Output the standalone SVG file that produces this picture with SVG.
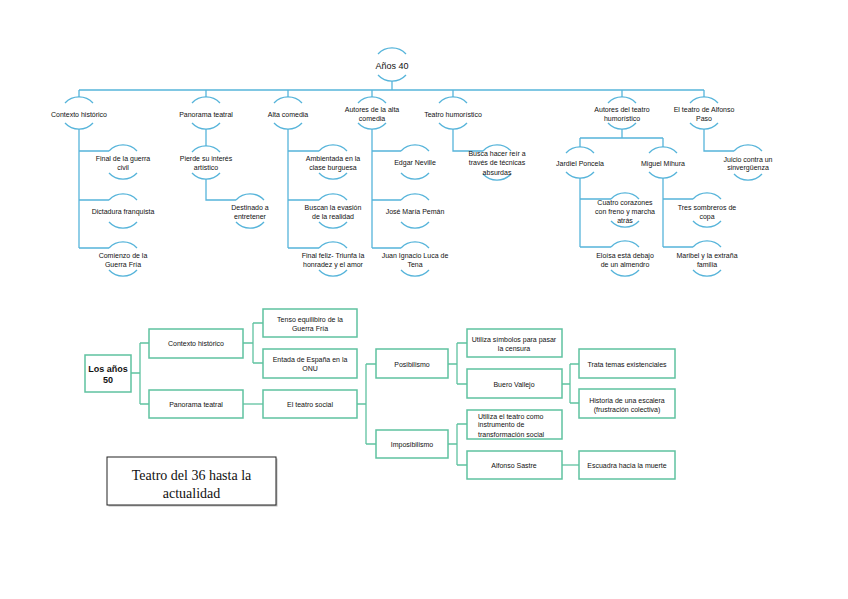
<svg xmlns="http://www.w3.org/2000/svg" width="848" height="599" viewBox="0 0 848 599">
<style>
  .bg{fill:#ffffff}
  .arc{fill:none;stroke:#56b4da;stroke-width:1.3}
  .con path{fill:none;stroke:#56b4da;stroke-width:1.3}
  .gcon path{fill:none;stroke:#5fc2a0;stroke-width:1.3}
  .t{font-family:"Liberation Sans","Noto Sans",sans-serif;font-size:7px;fill:#111111;text-anchor:middle}
  .box{fill:#ffffff;stroke:#5fc2a0;stroke-width:1.5}
  .tb{font-family:"Liberation Sans","Noto Sans",sans-serif;font-size:9px;font-weight:bold;fill:#111111;text-anchor:middle}
  .ts{font-family:"Liberation Serif","DejaVu Serif",serif;font-size:14px;fill:#111111;text-anchor:middle}
</style>
<rect class="bg" x="0" y="0" width="848" height="599"/>

<!-- connectors top -->
<g id="connectors-top" class="con">
  <path d="M392,81 V90"/>
  <path d="M79,90 H704"/>
  <path d="M79,90 V97 M206,90 V97 M288,90 V97 M372,90 V97 M453,90 V97 M622,90 V97 M704,90 V97"/>
  <path d="M79,129 V248 M79,151 H109 M79,200 H109 M79,248 H109"/>
  <path d="M206,129 V146 M206,179 V200 H236"/>
  <path d="M288,129 V248 M288,151 H319 M288,200 H319 M288,248 H319"/>
  <path d="M372,129 V248 M372,151 H401 M372,200 H401 M372,248 H401"/>
  <path d="M453,129 V151 H483"/>
  <path d="M622,129 V138 M580,138 H663 M580,138 V147 M663,138 V147"/>
  <path d="M580,178 V247 M580,199 H611 M580,247 H611"/>
  <path d="M663,178 V247 M663,199 H693 M663,247 H693"/>
  <path d="M704,129 V151 H734"/>
</g>

<!-- root -->
<g id="n-anos40">
  <path class="arc" d="M378,54 A19 19 0 0 1 406,54"/>
  <path class="arc" d="M378,75 A19 19 0 0 0 406,75"/>
  <text class="t" style="font-size:9px" x="392" y="69">Años 40</text>
</g>

<!-- level 1 -->
<g id="n-contexto">
  <path class="arc" d="M65,103 A19 19 0 0 1 93,103"/>
  <path class="arc" d="M65,123 A19 19 0 0 0 93,123"/>
  <text class="t" x="79" y="116.5">Contexto histórico</text>
</g>
<g id="n-panorama">
  <path class="arc" d="M192,103 A19 19 0 0 1 220,103"/>
  <path class="arc" d="M192,123 A19 19 0 0 0 220,123"/>
  <text class="t" x="206" y="116.5">Panorama teatral</text>
</g>
<g id="n-altacomedia">
  <path class="arc" d="M274,103 A19 19 0 0 1 302,103"/>
  <path class="arc" d="M274,123 A19 19 0 0 0 302,123"/>
  <text class="t" x="288" y="116.5">Alta comedia</text>
</g>
<g id="n-autoresalta">
  <path class="arc" d="M358,103 A19 19 0 0 1 386,103"/>
  <path class="arc" d="M358,123 A19 19 0 0 0 386,123"/>
  <text class="t" x="372" y="111.5">Autores de la alta<tspan x="372" dy="9">comedia</tspan></text>
</g>
<g id="n-humoristico">
  <path class="arc" d="M439,103 A19 19 0 0 1 467,103"/>
  <path class="arc" d="M439,123 A19 19 0 0 0 467,123"/>
  <text class="t" x="453" y="116.5">Teatro humorístico</text>
</g>
<g id="n-autoreshum">
  <path class="arc" d="M608,103 A19 19 0 0 1 636,103"/>
  <path class="arc" d="M608,123 A19 19 0 0 0 636,123"/>
  <text class="t" x="622" y="111.5">Autores del teatro<tspan x="622" dy="9">humorístico</tspan></text>
</g>
<g id="n-alfonsopaso">
  <path class="arc" d="M690,103 A19 19 0 0 1 718,103"/>
  <path class="arc" d="M690,123 A19 19 0 0 0 718,123"/>
  <text class="t" x="704" y="111.5">El teatro de Alfonso<tspan x="704" dy="9">Paso</tspan></text>
</g>

<!-- Contexto children -->
<g id="n-finalguerra">
  <path class="arc" d="M109,151 A19 19 0 0 1 137,151"/>
  <path class="arc" d="M109,173 A19 19 0 0 0 137,173"/>
  <text class="t" x="123" y="160.5">Final de la guerra<tspan x="123" dy="9">civil</tspan></text>
</g>
<g id="n-dictadura">
  <path class="arc" d="M109,200 A19 19 0 0 1 137,200"/>
  <path class="arc" d="M109,222 A19 19 0 0 0 137,222"/>
  <text class="t" x="123" y="213.5">Dictadura franquista</text>
</g>
<g id="n-comienzo">
  <path class="arc" d="M109,248 A19 19 0 0 1 137,248"/>
  <path class="arc" d="M109,270 A19 19 0 0 0 137,270"/>
  <text class="t" x="123" y="257.5">Comienzo de la<tspan x="123" dy="9">Guerra Fría</tspan></text>
</g>

<!-- Panorama children -->
<g id="n-pierde">
  <path class="arc" d="M192,152 A19 19 0 0 1 220,152"/>
  <path class="arc" d="M192,173 A19 19 0 0 0 220,173"/>
  <text class="t" x="206" y="160.5">Pierde su interés<tspan x="206" dy="9">artístico</tspan></text>
</g>
<g id="n-destinado">
  <path class="arc" d="M236,200 A19 19 0 0 1 264,200"/>
  <path class="arc" d="M236,222 A19 19 0 0 0 264,222"/>
  <text class="t" x="250" y="209.5">Destinado a<tspan x="250" dy="9">entretener</tspan></text>
</g>

<!-- Alta comedia children -->
<g id="n-ambientada">
  <path class="arc" d="M319,151 A19 19 0 0 1 347,151"/>
  <path class="arc" d="M319,173 A19 19 0 0 0 347,173"/>
  <text class="t" x="333" y="160.5">Ambientada en la<tspan x="333" dy="9">clase burguesa</tspan></text>
</g>
<g id="n-buscan">
  <path class="arc" d="M319,200 A19 19 0 0 1 347,200"/>
  <path class="arc" d="M319,222 A19 19 0 0 0 347,222"/>
  <text class="t" x="333" y="209.5">Buscan la evasión<tspan x="333" dy="9">de la realidad</tspan></text>
</g>
<g id="n-finalfeliz">
  <path class="arc" d="M319,248 A19 19 0 0 1 347,248"/>
  <path class="arc" d="M319,270 A19 19 0 0 0 347,270"/>
  <text class="t" x="333" y="257.5">Final feliz- Triunfa la<tspan x="333" dy="9">honradez y el amor</tspan></text>
</g>

<!-- Autores alta comedia children -->
<g id="n-neville">
  <path class="arc" d="M401,151 A19 19 0 0 1 429,151"/>
  <path class="arc" d="M401,173 A19 19 0 0 0 429,173"/>
  <text class="t" x="415" y="165">Edgar Neville</text>
</g>
<g id="n-peman">
  <path class="arc" d="M401,200 A19 19 0 0 1 429,200"/>
  <path class="arc" d="M401,222 A19 19 0 0 0 429,222"/>
  <text class="t" x="415" y="213.5">José María Pemán</text>
</g>
<g id="n-lucadetena">
  <path class="arc" d="M401,248 A19 19 0 0 1 429,248"/>
  <path class="arc" d="M401,270 A19 19 0 0 0 429,270"/>
  <text class="t" x="415" y="257.5">Juan Ignacio Luca de<tspan x="415" dy="9">Tena</tspan></text>
</g>

<!-- Teatro humoristico child -->
<g id="n-buscareir">
  <path class="arc" d="M483,151 A19 19 0 0 1 511,151"/>
  <path class="arc" d="M483,174 A19 19 0 0 0 511,174"/>
  <text class="t" x="497" y="155.5">Busca hacer reír a<tspan x="497" dy="9.5">través de técnicas</tspan><tspan x="497" dy="9.5">absurdas</tspan></text>
</g>

<!-- Autores teatro humoristico children -->
<g id="n-jardiel">
  <path class="arc" d="M566,153 A19 19 0 0 1 594,153"/>
  <path class="arc" d="M566,172 A19 19 0 0 0 594,172"/>
  <text class="t" x="580" y="165.5">Jardiel Poncela</text>
</g>
<g id="n-mihura">
  <path class="arc" d="M649,153 A19 19 0 0 1 677,153"/>
  <path class="arc" d="M649,172 A19 19 0 0 0 677,172"/>
  <text class="t" x="663" y="165.5">Miguel Mihura</text>
</g>
<g id="n-cuatro">
  <path class="arc" d="M611,199 A19 19 0 0 1 639,199"/>
  <path class="arc" d="M611,221 A19 19 0 0 0 639,221"/>
  <text class="t" x="625" y="204.5">Cuatro corazones<tspan x="625" dy="9">con freno y marcha</tspan><tspan x="625" dy="9">atrás</tspan></text>
</g>
<g id="n-eloisa">
  <path class="arc" d="M611,247 A19 19 0 0 1 639,247"/>
  <path class="arc" d="M611,270 A19 19 0 0 0 639,270"/>
  <text class="t" x="625" y="257.5">Eloísa está debajo<tspan x="625" dy="9">de un almendro</tspan></text>
</g>
<g id="n-tressombreros">
  <path class="arc" d="M693,199 A19 19 0 0 1 721,199"/>
  <path class="arc" d="M693,221 A19 19 0 0 0 721,221"/>
  <text class="t" x="707" y="209.5">Tres sombreros de<tspan x="707" dy="9">copa</tspan></text>
</g>
<g id="n-maribel">
  <path class="arc" d="M693,247 A19 19 0 0 1 721,247"/>
  <path class="arc" d="M693,270 A19 19 0 0 0 721,270"/>
  <text class="t" x="707" y="257.5">Maribel y la extraña<tspan x="707" dy="9">familia</tspan></text>
</g>

<!-- Alfonso Paso child -->
<g id="n-juicio">
  <path class="arc" d="M734,151 A19 19 0 0 1 762,151"/>
  <path class="arc" d="M734,174 A19 19 0 0 0 762,174"/>
  <text class="t" x="748" y="161.5">Juicio contra un<tspan x="748" dy="8.5">sinvergüenza</tspan></text>
</g>

<!-- connectors bottom -->
<g id="connectors-bottom" class="gcon">
  <path d="M131,373 H140 M140,343 V404 M140,343 H149 M140,404 H149"/>
  <path d="M243,343 H253 M253,323 V363 M253,323 H263 M253,363 H263"/>
  <path d="M243,404 H263"/>
  <path d="M357,404 H366 M366,364 V444 M366,364 H376 M366,444 H376"/>
  <path d="M448,364 H457 M457,343 V384 M457,343 H467 M457,384 H467"/>
  <path d="M448,444 H457 M457,424 V465 M457,424 H467 M457,465 H467"/>
  <path d="M562,384 H570 M570,364 V403 M570,364 H579 M570,403 H579"/>
  <path d="M562,465 H579"/>
</g>

<g id="b-anos50">
  <rect class="box" x="85" y="355" width="46" height="37"/>
  <text class="tb" x="108" y="372">Los años<tspan x="108" dy="11">50</tspan></text>
</g>
<g id="b-contexto">
  <rect class="box" x="149" y="329" width="94" height="29"/>
  <text class="t" x="196" y="345.5">Contexto histórico</text>
</g>
<g id="b-panorama">
  <rect class="box" x="149" y="390" width="94" height="28"/>
  <text class="t" x="196" y="406.5">Panorama teatral</text>
</g>
<g id="b-tenso">
  <rect class="box" x="263" y="309" width="94" height="28"/>
  <text class="t" x="310" y="321.5">Tenso equilibiro de la<tspan x="310" dy="9">Guerra Fría</tspan></text>
</g>
<g id="b-entrada">
  <rect class="box" x="263" y="349" width="94" height="29"/>
  <text class="t" x="310" y="361.5">Entada de España en la<tspan x="310" dy="9">ONU</tspan></text>
</g>
<g id="b-social">
  <rect class="box" x="263" y="390" width="94" height="28"/>
  <text class="t" x="310" y="406.5">El teatro social</text>
</g>
<g id="b-posibilismo">
  <rect class="box" x="376" y="349" width="72" height="29"/>
  <text class="t" x="412" y="366.5">Posibilismo</text>
</g>
<g id="b-imposibilismo">
  <rect class="box" x="376" y="430" width="72" height="28"/>
  <text class="t" x="412" y="446.5">Imposibilismo</text>
</g>
<g id="b-simbolos">
  <rect class="box" x="467" y="329" width="95" height="28"/>
  <text class="t" x="514" y="341.5">Utiliza símbolos para pasar<tspan x="514" dy="9">la censura</tspan></text>
</g>
<g id="b-buero">
  <rect class="box" x="467" y="369" width="95" height="29"/>
  <text class="t" x="514" y="386.5">Buero Vallejo</text>
</g>
<g id="b-instrumento">
  <rect class="box" x="467" y="410" width="95" height="29"/>
  <text class="t" style="text-anchor:start" x="478" y="418.5">Utiliza el teatro como<tspan x="478" dy="8.7">instrumento de</tspan><tspan x="478" dy="9.3">transformación social</tspan></text>
</g>
<g id="b-sastre">
  <rect class="box" x="467" y="451" width="95" height="28"/>
  <text class="t" x="514" y="467.5">Alfonso Sastre</text>
</g>
<g id="b-existenciales">
  <rect class="box" x="579" y="349" width="96" height="29"/>
  <text class="t" x="627" y="366.5">Trata temas existenciales</text>
</g>
<g id="b-escalera">
  <rect class="box" x="579" y="389" width="96" height="29"/>
  <text class="t" x="627" y="402.5">Historia de una escalera<tspan x="627" dy="9">(frustración colectiva)</tspan></text>
</g>
<g id="b-escuadra">
  <rect class="box" x="579" y="451" width="96" height="28"/>
  <text class="t" x="627" y="467.5">Escuadra hacia la muerte</text>
</g>

<g id="title-box">
  <rect x="108.5" y="458.5" width="169" height="48" fill="#bbbbbb"/>
  <rect x="107" y="457" width="169" height="48" fill="#ffffff" stroke="#222222" stroke-width="1"/>
  <text class="ts" x="191.5" y="480">Teatro del 36 hasta la<tspan x="191.5" dy="18">actualidad</tspan></text>
</g>
</svg>
